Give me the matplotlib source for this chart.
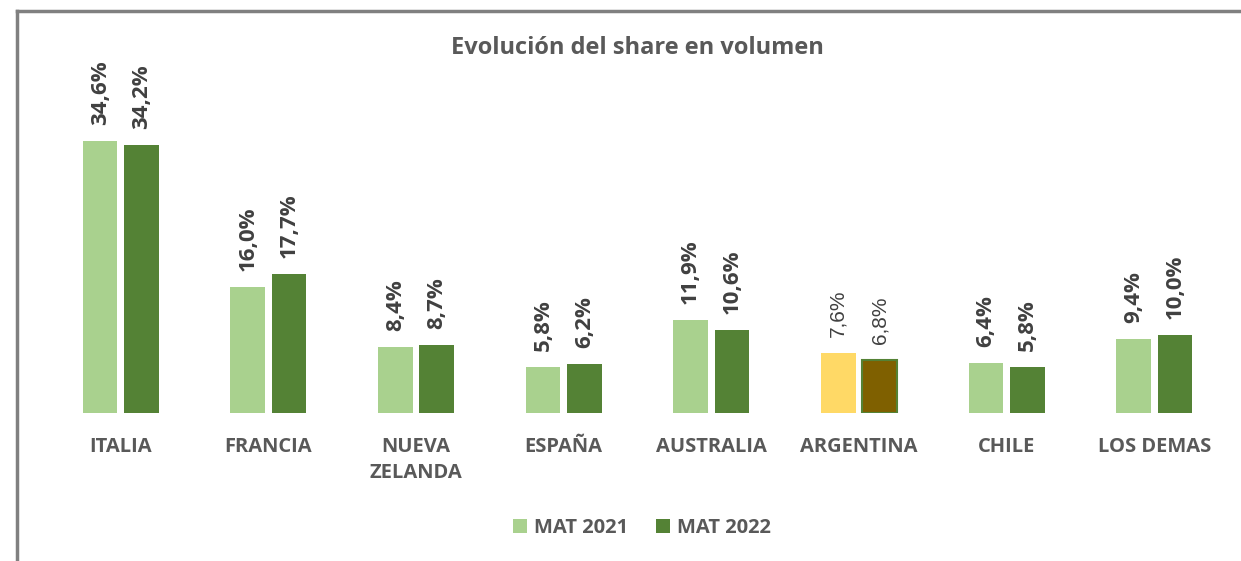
import matplotlib
matplotlib.use("Agg")
import matplotlib.pyplot as plt
from matplotlib.lines import Line2D
from matplotlib.patches import Patch
import numpy as np

# Data
categories = ["ITALIA", "FRANCIA", "NUEVA\nZELANDA", "ESPAÑA", "AUSTRALIA",
              "ARGENTINA", "CHILE", "LOS DEMAS"]
mat_2021 = [34.6, 16.0, 8.4, 5.8, 11.9, 7.6, 6.4, 9.4]
mat_2022 = [34.2, 17.7, 8.7, 6.2, 10.6, 6.8, 5.8, 10.0]
series_names = ["MAT 2021", "MAT 2022"]
title = "Evolución del share en volumen"

LIGHT = "#A9D18E"
DARK = "#548235"
HL_LIGHT = "#FFD966"
HL_DARK = "#7F6000"
HIGHLIGHT = "ARGENTINA"
TEXT = "#595959"
LABEL = "#404040"
FONT = "Open Sans"

W, H = 1241, 561
fig = plt.figure(figsize=(W / 100, H / 100), dpi=100)
ax = fig.add_axes([47 / W, 1 - 413 / H, 1181 / W, 314 / H])

x = np.arange(len(categories))
bw = 0.235
off = 0.14

for i, cat in enumerate(categories):
    hl = cat == HIGHLIGHT
    c1 = HL_LIGHT if hl else LIGHT
    c2 = HL_DARK if hl else DARK
    ax.bar(x[i] - off, mat_2021[i], bw, color=c1, edgecolor="none")
    ax.bar(x[i] + off, mat_2022[i], bw, color=c2,
           edgecolor=DARK, linewidth=1.5 if hl else 0)
    for xx, v in ((x[i] - off, mat_2021[i]), (x[i] + off, mat_2022[i])):
        txt = f"{v:.1f}%".replace(".", ",")
        if hl:
            kw = dict(family="Liberation Sans", weight="normal", fontsize=15)
        else:
            kw = dict(family=FONT, weight="bold", fontsize=16)
        ax.annotate(txt, (xx, v), xytext=(0, 11.5), textcoords="offset points",
                    rotation=90, ha="center", va="bottom", color=LABEL, **kw)

ax.set_xlim(-0.5, len(categories) - 0.5)
ax.set_ylim(0, 40)
ax.set_xticks(x)
ax.set_xticklabels(categories, fontsize=14.5, color=TEXT, family=FONT,
                   weight="bold", linespacing=1.4)
ax.tick_params(axis="x", length=0, pad=17)
ax.set_yticks([])
for s in ax.spines.values():
    s.set_visible(False)

fig.text(637 / W, 1 - 54 / H, title, ha="center", va="baseline",
         fontsize=17, color=TEXT, family=FONT, weight="bold")

handles = [Patch(facecolor=LIGHT, edgecolor="none"),
           Patch(facecolor=DARK, edgecolor="none")]
fig.legend(handles, series_names, loc="center", bbox_to_anchor=(642 / W, 1 - 528 / H),
           ncol=2, frameon=False, handlelength=0.7, handleheight=0.7,
           handletextpad=0.35, columnspacing=1.4,
           prop=dict(family=FONT, weight="bold", size=14.5),
           labelcolor=TEXT)

# Outer frame (top and left edges)
fig.add_artist(Line2D([17 / W, 1], [1 - 11 / H, 1 - 11 / H], color="#808080",
                      linewidth=2.5, transform=fig.transFigure))
fig.add_artist(Line2D([17 / W, 17 / W], [0, 1 - 11 / H], color="#808080",
                      linewidth=2.5, transform=fig.transFigure))

fig.savefig("out.png", dpi=100)
